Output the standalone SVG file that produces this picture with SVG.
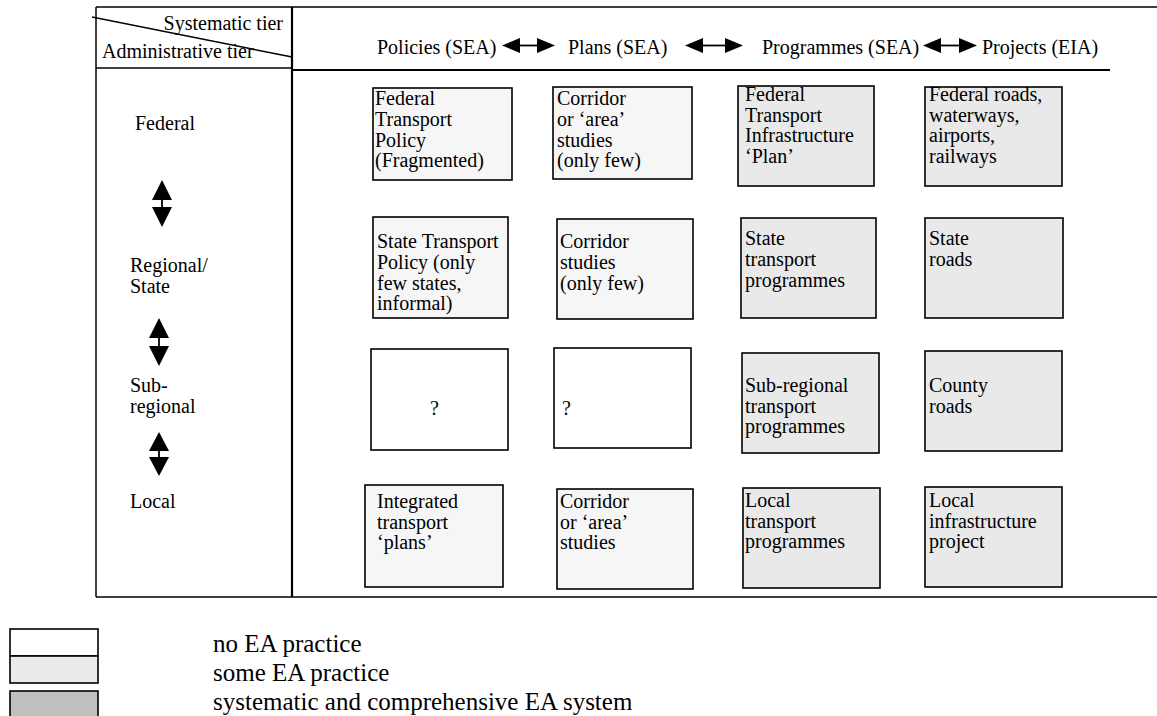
<svg xmlns="http://www.w3.org/2000/svg" width="1157" height="716" viewBox="0 0 1157 716">
<style>
text{font-family:"Liberation Serif","Times New Roman",serif;font-size:20px;fill:#000}
.frame{stroke:#000;stroke-width:1.5;fill:none}
.thick{stroke:#000;stroke-width:2.2;fill:none}
.box{stroke:#000;stroke-width:1.6}
.w{fill:#fff}
.l{fill:#f6f6f6}
.m{fill:#e9e9e9}
.leg{font-size:25px}
.ah{fill:#000;stroke:none}
.stem{stroke:#000;stroke-width:1.8}
</style>
<rect width="1157" height="716" fill="#fff"/>
<g id="frame">
<line class="frame" x1="96" y1="7" x2="1157" y2="7"/>
<line class="frame" x1="96" y1="7" x2="96" y2="597"/>
<line class="frame" x1="96" y1="597" x2="1157" y2="597"/>
<line class="thick" x1="292" y1="7" x2="292" y2="597"/>
<line class="frame" x1="96" y1="68" x2="292" y2="68"/>
<line class="thick" x1="292" y1="70" x2="1110" y2="70"/>
<line class="frame" x1="92" y1="17" x2="292" y2="57"/>
</g>
<g id="header">
<text x="283" y="30" text-anchor="end">Systematic tier</text>
<text x="102" y="58">Administrative tier</text>
<text x="377" y="54">Policies (SEA)</text>
<text x="568" y="54">Plans (SEA)</text>
<text x="762" y="54">Programmes (SEA)</text>
<text x="982" y="54">Projects (EIA)</text>
</g>
<g id="tiers">
<text x="135" y="130">Federal</text>
<text x="130" y="272">Regional/</text>
<text x="130" y="293">State</text>
<text x="130" y="392">Sub-</text>
<text x="130" y="413">regional</text>
<text x="130" y="508">Local</text>
</g>
<g id="connectors">
<line class="stem" x1="515" y1="45.5" x2="542" y2="45.5"/>
<polygon class="ah" points="502,45.5 520,38 520,53"/>
<polygon class="ah" points="555,45.5 537,38 537,53"/>
<line class="stem" x1="698" y1="45.5" x2="730" y2="45.5"/>
<polygon class="ah" points="685,45.5 703,38 703,53"/>
<polygon class="ah" points="743,45.5 725,38 725,53"/>
<line class="stem" x1="935" y1="45.5" x2="965" y2="45.5"/>
<polygon class="ah" points="923,45.5 941,38 941,53"/>
<polygon class="ah" points="977,45.5 959,38 959,53"/>
<line class="stem" x1="162" y1="195" x2="162" y2="212"/>
<polygon class="ah" points="162,180 152,200 172,200"/>
<polygon class="ah" points="162,227 152,207 172,207"/>
<line class="stem" x1="159" y1="333" x2="159" y2="351"/>
<polygon class="ah" points="159,318 149,338 169,338"/>
<polygon class="ah" points="159,366 149,346 169,346"/>
<line class="stem" x1="159" y1="446" x2="159" y2="462"/>
<polygon class="ah" points="159,432 149,451 169,451"/>
<polygon class="ah" points="159,476 149,457 169,457"/>
</g>
<g id="n-fed-policy"><rect class="box l" x="373" y="88" width="139" height="92"/>
<text x="375" y="105">Federal</text><text x="375" y="126">Transport</text><text x="375" y="147">Policy</text><text x="375" y="167">(Fragmented)</text></g>
<g id="n-fed-plan"><rect class="box l" x="553" y="87" width="139" height="92"/>
<text x="557" y="105">Corridor</text><text x="557" y="126">or ‘area’</text><text x="557" y="147">studies</text><text x="557" y="167">(only few)</text></g>
<g id="n-fed-prog"><rect class="box m" x="738" y="86" width="136" height="100"/>
<text x="745" y="101">Federal</text><text x="745" y="122">Transport</text><text x="745" y="142">Infrastructure</text><text x="745" y="163">‘Plan’</text></g>
<g id="n-fed-proj"><rect class="box m" x="925" y="87" width="137" height="99"/>
<text x="929" y="101">Federal roads,</text><text x="929" y="122">waterways,</text><text x="929" y="142">airports,</text><text x="929" y="163">railways</text></g>
<g id="n-reg-policy"><rect class="box l" x="373" y="217" width="135" height="101"/>
<text x="377" y="248">State Transport</text><text x="377" y="269">Policy (only</text><text x="377" y="290">few states,</text><text x="377" y="310">informal)</text></g>
<g id="n-reg-plan"><rect class="box l" x="557" y="219" width="136" height="100"/>
<text x="560" y="248">Corridor</text><text x="560" y="269">studies</text><text x="560" y="290">(only few)</text></g>
<g id="n-reg-prog"><rect class="box m" x="741" y="218" width="135" height="100"/>
<text x="745" y="245">State</text><text x="745" y="266">transport</text><text x="745" y="287">programmes</text></g>
<g id="n-reg-proj"><rect class="box m" x="925" y="218" width="138" height="100"/>
<text x="929" y="245">State</text><text x="929" y="266">roads</text></g>
<g id="n-sub-policy"><rect class="box w" x="371" y="349" width="137" height="101"/>
<text x="430" y="415">?</text></g>
<g id="n-sub-plan"><rect class="box w" x="554" y="348" width="137" height="100"/>
<text x="562" y="415">?</text></g>
<g id="n-sub-prog"><rect class="box m" x="742" y="353" width="137" height="100"/>
<text x="745" y="392">Sub-regional</text><text x="745" y="413">transport</text><text x="745" y="433">programmes</text></g>
<g id="n-sub-proj"><rect class="box m" x="925" y="351" width="137" height="100"/>
<text x="929" y="392">County</text><text x="929" y="413">roads</text></g>
<g id="n-loc-policy"><rect class="box l" x="365" y="485" width="138" height="102"/>
<text x="377" y="508">Integrated</text><text x="377" y="529">transport</text><text x="377" y="549">‘plans’</text></g>
<g id="n-loc-plan"><rect class="box l" x="557" y="489" width="136" height="100"/>
<text x="560" y="508">Corridor</text><text x="560" y="529">or ‘area’</text><text x="560" y="549">studies</text></g>
<g id="n-loc-prog"><rect class="box m" x="743" y="488" width="137" height="100"/>
<text x="745" y="507">Local</text><text x="745" y="528">transport</text><text x="745" y="548">programmes</text></g>
<g id="n-loc-proj"><rect class="box m" x="925" y="487" width="137" height="100"/>
<text x="929" y="507">Local</text><text x="929" y="528">infrastructure</text><text x="929" y="548">project</text></g>
<g id="legend">
<rect class="box w" x="10" y="629" width="88" height="27"/>
<rect class="box" fill="#ebebeb" x="10" y="656" width="88" height="27"/>
<rect class="box" fill="#c0c0c0" x="10" y="691" width="88" height="30"/>
<text class="leg" x="213" y="652">no EA practice</text>
<text class="leg" x="213" y="681">some EA practice</text>
<text class="leg" x="213" y="710">systematic and comprehensive EA system</text>
</g>
</svg>
